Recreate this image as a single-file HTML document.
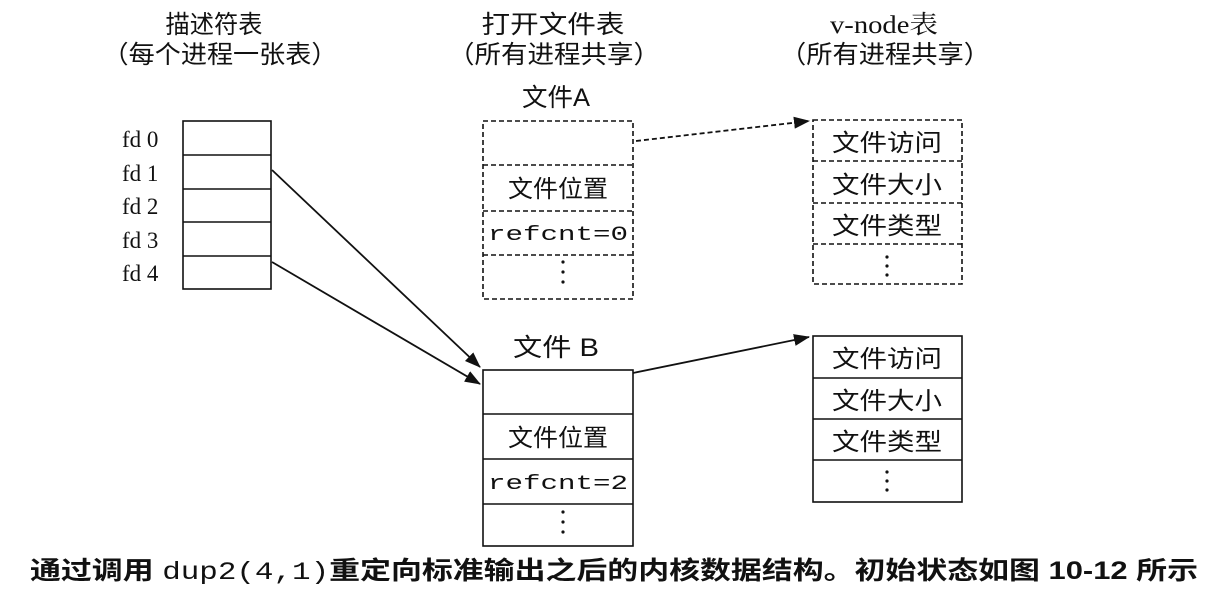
<!DOCTYPE html>
<html><head><meta charset="utf-8"><style>
html,body{margin:0;padding:0;background:#fff;}
svg{display:block}
text{font-family:"Liberation Serif","Noto Serif CJK SC","Noto Sans CJK SC",serif;fill:#111}
.m{font-family:"Liberation Mono","Noto Sans CJK SC",monospace}
.c{font-family:"Liberation Sans","Noto Sans CJK SC",sans-serif}
</style></head><body>
<svg width="1226" height="596" viewBox="0 0 1226 596" xmlns="http://www.w3.org/2000/svg">
<defs>
<marker id="ah2" markerWidth="16" markerHeight="12" refX="15" refY="6" orient="auto" markerUnits="userSpaceOnUse" viewBox="0 0 16 12">
<path d="M0,0 L16,6 L0,12 z" fill="#111"/></marker>
</defs>
<g class="c" font-size="25">
<text x="214" y="33" text-anchor="middle" textLength="97" lengthAdjust="spacingAndGlyphs" class="c">描述符表</text>
<text x="220" y="63" text-anchor="middle" textLength="235" lengthAdjust="spacingAndGlyphs" class="c">（每个进程一张表）</text>
<text x="553" y="33" text-anchor="middle" textLength="143" lengthAdjust="spacingAndGlyphs" class="c">打开文件表</text>
<text x="554" y="63" text-anchor="middle" textLength="212" lengthAdjust="spacingAndGlyphs" class="c">（所有进程共享）</text>
<text x="884" y="33" text-anchor="middle" textLength="108" lengthAdjust="spacingAndGlyphs">v-node表</text>
<text x="885" y="63" text-anchor="middle" textLength="210" lengthAdjust="spacingAndGlyphs" class="c">（所有进程共享）</text>
<text x="556" y="106" text-anchor="middle" textLength="68" lengthAdjust="spacingAndGlyphs" class="c">文件A</text>
<text x="556" y="356" text-anchor="middle" textLength="86" lengthAdjust="spacingAndGlyphs" class="c">文件 B</text>
</g>
<g font-size="23">
<text x="122" y="147">fd 0</text>
<text x="122" y="181">fd 1</text>
<text x="122" y="214">fd 2</text>
<text x="122" y="248">fd 3</text>
<text x="122" y="281">fd 4</text>
</g>
<g stroke="#111" stroke-width="1.6" fill="none">
<rect x="183" y="121" width="88" height="168"/>
<line x1="183" y1="155" x2="271" y2="155"/>
<line x1="183" y1="189" x2="271" y2="189"/>
<line x1="183" y1="222" x2="271" y2="222"/>
<line x1="183" y1="256" x2="271" y2="256"/>
</g>
<g stroke="#111" stroke-width="1.6" fill="none" stroke-dasharray="5,3">
<rect x="483" y="121" width="150" height="178"/>
<line x1="483" y1="165" x2="633" y2="165"/>
<line x1="483" y1="211" x2="633" y2="211"/>
<line x1="483" y1="255" x2="633" y2="255"/>
<rect x="813" y="120" width="149" height="164"/>
<line x1="813" y1="161" x2="962" y2="161"/>
<line x1="813" y1="203" x2="962" y2="203"/>
<line x1="813" y1="244" x2="962" y2="244"/>
</g>
<g stroke="#111" stroke-width="1.6" fill="none">
<rect x="483" y="370" width="150" height="176"/>
<line x1="483" y1="414" x2="633" y2="414"/>
<line x1="483" y1="459" x2="633" y2="459"/>
<line x1="483" y1="504" x2="633" y2="504"/>
<rect x="813" y="336" width="149" height="166"/>
<line x1="813" y1="378" x2="962" y2="378"/>
<line x1="813" y1="419" x2="962" y2="419"/>
<line x1="813" y1="460" x2="962" y2="460"/>
</g>
<g font-size="24" class="c" text-anchor="middle">
<text x="558" y="197" class="c" textLength="100" lengthAdjust="spacingAndGlyphs">文件位置</text>
<text x="558" y="446" class="c" textLength="100" lengthAdjust="spacingAndGlyphs">文件位置</text>
<text x="887" y="151" class="c" textLength="110" lengthAdjust="spacingAndGlyphs">文件访问</text>
<text x="887" y="193" class="c" textLength="110" lengthAdjust="spacingAndGlyphs">文件大小</text>
<text x="887" y="234" class="c" textLength="110" lengthAdjust="spacingAndGlyphs">文件类型</text>
<text x="887" y="367" class="c" textLength="110" lengthAdjust="spacingAndGlyphs">文件访问</text>
<text x="887" y="409" class="c" textLength="110" lengthAdjust="spacingAndGlyphs">文件大小</text>
<text x="887" y="450" class="c" textLength="110" lengthAdjust="spacingAndGlyphs">文件类型</text>
</g>
<g font-size="20" class="m" text-anchor="middle">
<text x="558" y="240" class="m" textLength="140" lengthAdjust="spacingAndGlyphs">refcnt=0</text>
<text x="558" y="489" class="m" textLength="140" lengthAdjust="spacingAndGlyphs">refcnt=2</text>
</g>
<g fill="#111">
<circle cx="563" cy="262" r="1.6"/><circle cx="563" cy="272" r="1.6"/><circle cx="563" cy="282" r="1.6"/>
<circle cx="563" cy="512" r="1.6"/><circle cx="563" cy="522" r="1.6"/><circle cx="563" cy="532" r="1.6"/>
<circle cx="887" cy="257" r="1.6"/><circle cx="887" cy="266" r="1.6"/><circle cx="887" cy="275" r="1.6"/>
<circle cx="887" cy="472" r="1.6"/><circle cx="887" cy="481" r="1.6"/><circle cx="887" cy="490" r="1.6"/>
</g>
<g stroke="#111" stroke-width="1.8" fill="none">
<line x1="272" y1="170" x2="480" y2="367" marker-end="url(#ah2)"/>
<line x1="272" y1="262" x2="480" y2="384" marker-end="url(#ah2)"/>
<line x1="633" y1="373" x2="809" y2="337" marker-end="url(#ah2)"/>
<line x1="636" y1="141" x2="809" y2="121" stroke-dasharray="5,3" marker-end="url(#ah2)"/>
</g>
<text x="30" y="579" font-size="25" class="c" textLength="1168" lengthAdjust="spacingAndGlyphs" font-weight="bold">通过调用 <tspan class="m" font-weight="normal">dup2(4,1)</tspan>重定向标准输出之后的内核数据结构。初始状态如图 10-12 所示</text>
</svg>
</body></html>
